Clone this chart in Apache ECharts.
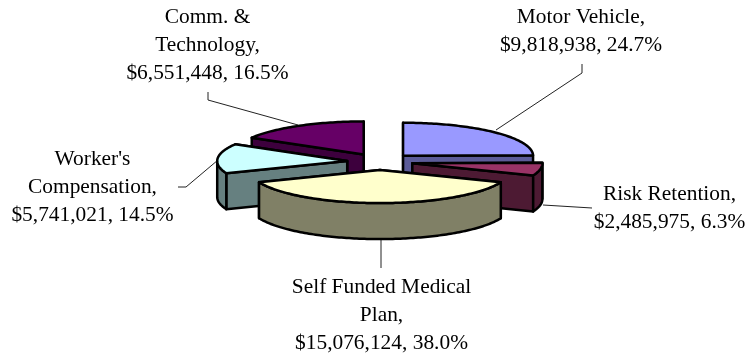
<!DOCTYPE html>
<html><head><meta charset="utf-8">
<style>html,body{margin:0;padding:0;background:#fff}#c{width:747px;height:356px}</style>
<script src="https://cdn.jsdelivr.net/npm/echarts@6/dist/echarts.min.js"></script>
</head><body><div id="c"></div>
<script>
// data
const names = ['Motor Vehicle','Risk Retention','Self Funded Medical Plan','Worker\'s Compensation','Comm. & Technology'];
const values = [9818938,2485975,15076124,5741021,6551448];
const labelLines = [
  ['Motor Vehicle,','$9,818,938, 24.7%'],
  ['Risk Retention,','$2,485,975, 6.3%'],
  ['Self Funded Medical','Plan,','$15,076,124, 38.0%'],
  ["Worker's",'Compensation,','$5,741,021, 14.5%'],
  ['Comm. &','Technology,','$6,551,448, 16.5%']
];
const topColors = ['#9999FF','#993366','#FFFFCC','#CCFFFF','#660066'];
const sideColors = ['#5C5C99','#4D1A33','#808066','#668080','#3D003D'];
// layout
const cx=380, cy=161.7, rx=130, ry=33, depth=36, explode=0.253;
const labelAnchors=[[581,17],[669.5,194],[381.5,287],[92.5,159],[207.5,17]];
const lineH=28;
const leaders=[
  [[496,130],[582,73],[582,64]],
  [[543,205],[592,208]],
  [[381,240],[381,268]],
  [[218,160],[186,187],[178,187]],
  [[298,125],[208,100],[208,92]]
];
const total=values.reduce((a,b)=>a+b,0);
let acc=0;
const slices=values.map((v,i)=>{const s=acc/total*2*Math.PI;acc+=v;const e=acc/total*2*Math.PI;const m=(s+e)/2;
  return {i,s,e,m,ax:cx+explode*rx*Math.sin(m),ay:cy-explode*ry*Math.cos(m)};});
const order=slices.slice().sort((a,b)=>(-Math.cos(a.m))-(-Math.cos(b.m))).map(s=>s.i);
function pt(sl,t,d){return [sl.ax+rx*Math.sin(t),sl.ay-ry*Math.cos(t)+(d||0)];}
function arc(sl,a,b,d){const n=Math.max(2,Math.ceil(Math.abs(b-a)/0.02));const r=[];for(let k=0;k<=n;k++)r.push(pt(sl,a+(b-a)*k/n,d));return r;}
const stroke={stroke:'#000',lineWidth:2.5,lineJoin:'round'};
function poly(points,fill){return {type:'polygon',shape:{points},style:Object.assign({fill},stroke)};}
function renderItem(params,api){
  const idx=api.value(0), sl=slices[idx], ch=[];
  const A=[sl.ax,sl.ay], Ab=[sl.ax,sl.ay+depth], side=sideColors[idx];
  const wall=t=>poly([A,pt(sl,t),pt(sl,t,depth),Ab],side);
  const walls=[sl.s,sl.e].sort((a,b)=>-Math.cos(a)+Math.cos(b));
  walls.forEach(t=>ch.push(wall(t)));
  const a=Math.max(sl.s,Math.PI/2), b=Math.min(sl.e,1.5*Math.PI);
  if(b>a) ch.push(poly(arc(sl,a,b,0).concat(arc(sl,b,a,depth)),side));
  ch.push(poly([A].concat(arc(sl,sl.s,sl.e,0)),topColors[idx]));
  return {type:'group',children:ch};
}
function renderLabel(params,api){
  const idx=api.value(0), ch=[];
  ch.push({type:'polyline',shape:{points:leaders[idx]},style:{stroke:'#222',lineWidth:1,fill:null}});
  labelLines[idx].forEach((t,k)=>ch.push({type:'text',x:labelAnchors[idx][0],y:labelAnchors[idx][1]+k*lineH,
    style:{text:t,fill:'#000',font:'21.4px "Liberation Serif"',textAlign:'center',textVerticalAlign:'middle'}}));
  return {type:'group',children:ch};
}
const chart=echarts.init(document.getElementById('c'),null,{renderer:'canvas'});
chart.setOption({animation:false,backgroundColor:'#fff',series:[
  {type:'custom',coordinateSystem:'none',silent:true,z:2,renderItem,data:order.map(i=>({value:[i,values[i]],name:names[i]}))},
  {type:'custom',coordinateSystem:'none',silent:true,z:1,renderItem:renderLabel,data:values.map((v,i)=>({value:[i,v],name:names[i]}))}
]});
</script></body></html>
